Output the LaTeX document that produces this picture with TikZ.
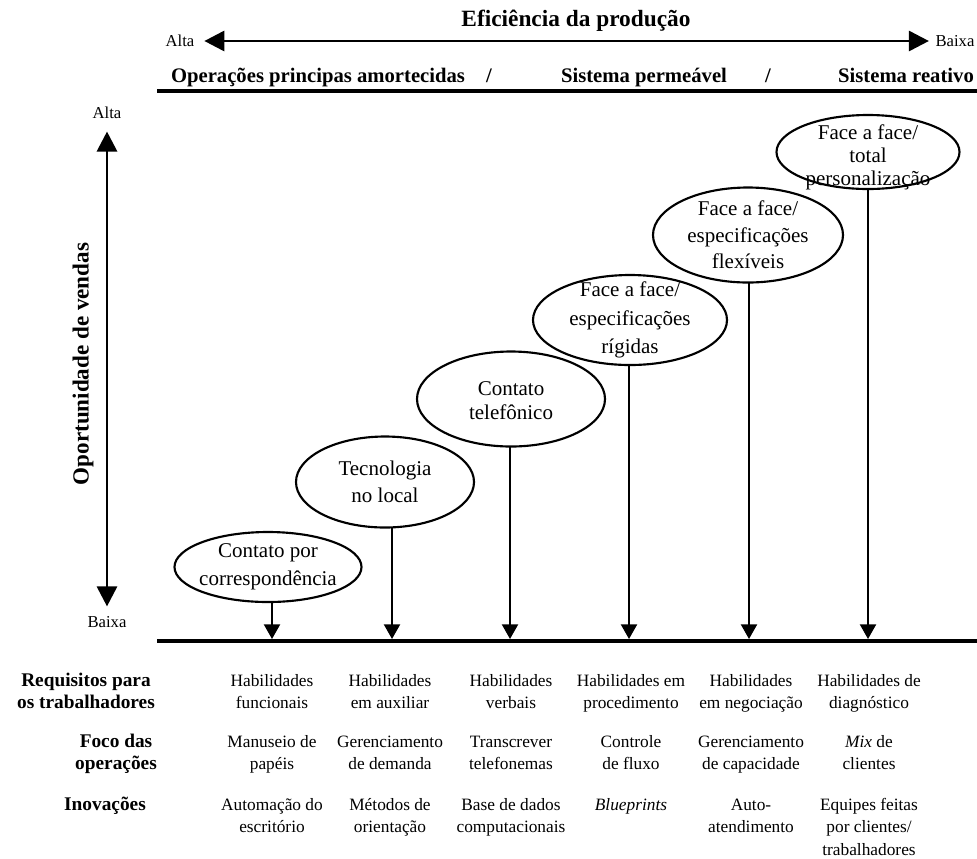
\documentclass[tikz,border=0pt]{standalone}
\usepackage{fontspec}
\setmainfont{Liberation Serif}
\usetikzlibrary{shapes.geometric,arrows.meta}

% font sizes (1 picture unit = 0.75pt)
\newcommand\dgTitle{\fontsize{17.5pt}{21pt}\selectfont\bfseries}
\newcommand\dgHead{\fontsize{15.5pt}{18pt}\selectfont\bfseries}
\newcommand\dgAxis{\fontsize{17.3pt}{20pt}\selectfont\bfseries}
\newcommand\dgTick{\fontsize{12.5pt}{15pt}\selectfont}
\newcommand\dgRow{\fontsize{14.5pt}{16.9pt}\selectfont\bfseries}
\newcommand\dgBody{\fontsize{13pt}{16.9pt}\selectfont}
\newcommand\dgEll[1][20pt]{\fontsize{15.75pt}{#1}\selectfont}
% fixed first-line height so that table rows stay level
\newcommand\dgStrut{\rule{0pt}{12pt}}

\begin{document}
\begin{tikzpicture}[x=0.75pt,y=-0.75pt,
  every node/.style={inner sep=0pt,outer sep=0pt},
  axis/.style={line width=2.2pt,
    {Triangle[length=15pt,width=15pt]}-{Triangle[length=15pt,width=15pt]}},
  rule/.style={line width=3.6pt},
  conn/.style={line width=1.6pt,-{Triangle[length=11pt,width=12pt]}},
  ell/.style={ellipse,draw,line width=1.6pt},
  etext/.style={align=center},
  cell/.style={font=\dgBody,align=center,anchor=north},
  rowlab/.style={font=\dgRow,align=center,anchor=north},
  head/.style={font=\dgHead,anchor=base}]

\path[use as bounding box] (0,0) rectangle (977,858);

% production efficiency axis
\node[font=\dgTitle,anchor=base] (title) at (576,26) {Eficiência da produção};
\node[font=\dgTick] (effhi) at (180,41) {Alta};
\node[font=\dgTick] (efflo) at (955,41) {Baixa};
\draw[axis,shorten <=7.5pt,shorten >=5pt] (effhi) -- (efflo);

% system types
\node[head] (sys1) at (318,82) {Operações principas amortecidas};
\node[head] (sl1) at (489,82) {/};
\node[head] (sys2) at (644,82) {Sistema permeável};
\node[head] (sl2) at (768,82) {/};
\node[head] (sys3) at (906,82) {Sistema reativo};

% horizontal rules
\coordinate (tl) at (157,91);
\coordinate (tr) at (977,91);
\coordinate (bl) at (157,641);
\coordinate (br) at (977,641);
\draw[rule] (tl) -- (tr);
\draw[rule] (bl) -- (br);

% sales opportunity axis
\node[font=\dgTick] (opphi) at (107,113) {Alta};
\node[font=\dgTick] (opplo) at (107,622) {Baixa};
\draw[axis,shorten <=9.5pt,shorten >=7.5pt] (opphi) -- (opplo);
\node[font=\dgAxis,rotate=90] (opp) at (83,364) {Oportunidade de vendas};

% contact modes
\node[ell,minimum width=187*0.75pt,minimum height=70*0.75pt,
  label={[etext,font={\dgEll[21pt]}]center:{Contato por\\correspondência}}]
  (e1) at (268,567) {};
\node[ell,minimum width=178*0.75pt,minimum height=91*0.75pt,
  label={[etext,font={\dgEll[20pt]}]center:{Tecnologia\\no local}}]
  (e2) at (385,482) {};
\node[ell,minimum width=188*0.75pt,minimum height=95*0.75pt,
  label={[etext,font={\dgEll[18pt]},yshift=-1.5pt]center:{Contato\\telefônico}}]
  (e3) at (511,399) {};
\node[ell,minimum width=194*0.75pt,minimum height=90*0.75pt,
  label={[etext,font={\dgEll[21.5pt]}]center:{Face a face/\\especificações\\rígidas}}]
  (e4) at (630,320) {};
\node[ell,minimum width=190*0.75pt,minimum height=95*0.75pt,
  label={[etext,font={\dgEll[20pt]}]center:{Face a face/\\especificações\\flexíveis}}]
  (e5) at (748,235) {};
\node[ell,minimum width=183*0.75pt,minimum height=74*0.75pt,
  label={[etext,font={\dgEll[17.6pt]},yshift=-4pt]center:{Face a face/\\total\\personalização}}]
  (e6) at (868,152) {};

% drop arrows onto the lower rule
\coordinate (a1) at (272,639);
\coordinate (a2) at (392,639);
\coordinate (a3) at (510,639);
\coordinate (a4) at (629,639);
\coordinate (a5) at (749,639);
\coordinate (a6) at (868,639);
\draw[conn] (e1.south -| a1) -- (a1);
\draw[conn] (e2.south -| a2) -- (a2);
\draw[conn] (e3.south -| a3) -- (a3);
\draw[conn] (e4.south -| a4) -- (a4);
\draw[conn] (e5.south -| a5) -- (a5);
\draw[conn] (e6.south -| a6) -- (a6);

% row labels
\node[rowlab] (r1) at (86,670) {\dgStrut Requisitos para\\os trabalhadores};
\node[rowlab] (r2) at (116,731) {\dgStrut Foco das\\operações};
\node[rowlab] (r3) at (105,794) {\dgStrut Inovações};

% worker requirements
\node[cell] (c11) at (272,670) {\dgStrut Habilidades\\funcionais};
\node[cell] (c12) at (390,670) {\dgStrut Habilidades\\em auxiliar};
\node[cell] (c13) at (511,670) {\dgStrut Habilidades\\verbais};
\node[cell] (c14) at (631,670) {\dgStrut Habilidades em\\procedimento};
\node[cell] (c15) at (751,670) {\dgStrut Habilidades\\em negociação};
\node[cell] (c16) at (869,670) {\dgStrut Habilidades de\\diagnóstico};

% operations focus
\node[cell] (c21) at (272,731) {\dgStrut Manuseio de\\papéis};
\node[cell] (c22) at (390,731) {\dgStrut Gerenciamento\\de demanda};
\node[cell] (c23) at (511,731) {\dgStrut Transcrever\\telefonemas};
\node[cell] (c24) at (631,731) {\dgStrut Controle\\de fluxo};
\node[cell] (c25) at (751,731) {\dgStrut Gerenciamento\\de capacidade};
\node[cell] (c26) at (869,731) {\dgStrut\textit{Mix} de\\clientes};

% innovations
\node[cell] (c31) at (272,794) {\dgStrut Automação do\\escritório};
\node[cell] (c32) at (390,794) {\dgStrut Métodos de\\orientação};
\node[cell] (c33) at (511,794) {\dgStrut Base de dados\\computacionais};
\node[cell] (c34) at (631,794) {\dgStrut\textit{Blueprints}};
\node[cell] (c35) at (751,794) {\dgStrut Auto-\\atendimento};
\node[cell] (c36) at (869,794) {\dgStrut Equipes feitas\\por clientes/\\trabalhadores};
\end{tikzpicture}
\end{document}
